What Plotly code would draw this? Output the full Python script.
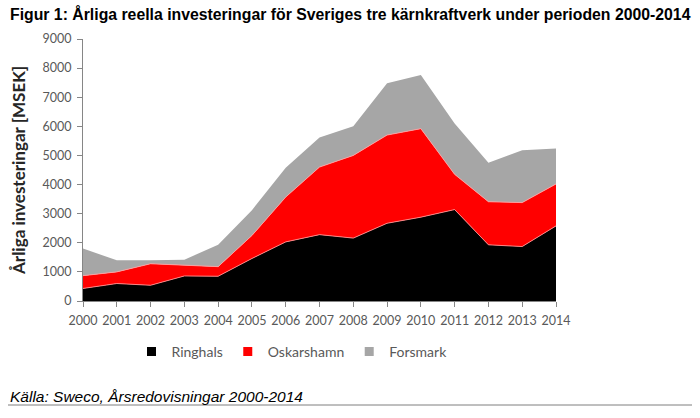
import plotly.graph_objects as go

years = list(range(2000, 2015))
ringhals = [430, 600, 540, 860, 850, 1460, 2030, 2280, 2160, 2670, 2880, 3140, 1930, 1870, 2580]
oskarshamn = [440, 400, 740, 370, 330, 790, 1540, 2320, 2840, 3030, 3040, 1210, 1480, 1510, 1440]
forsmark = [930, 400, 120, 190, 750, 870, 1010, 1020, 1000, 1780, 1840, 1750, 1340, 1800, 1220]

series = [("Ringhals", ringhals, "#000000", "rgba(255,140,140,0.9)"),
          ("Oskarshamn", oskarshamn, "#ff0000", "rgba(255,160,160,0.9)"),
          ("Forsmark", forsmark, "#a6a6a6", "rgba(166,166,166,0)")]

L, R, T, B = 83, 144, 39, 117
W, H = 700, 418
pw, ph = W - L - R, H - T - B

def px(x):
    return (x - L) / pw

def py(y):
    return (H - B - y) / ph

fig = go.Figure()
for name, vals, col, lc in series:
    fig.add_trace(go.Scatter(x=years, y=vals, name=name, stackgroup="one",
                             mode="lines", line=dict(color=lc, width=1),
                             fillcolor=col, showlegend=False, hoverinfo="skip"))
for name, vals, col, lc in series:
    fig.add_trace(go.Scatter(x=[None], y=[None], name=name, mode="markers",
                             marker=dict(symbol="square", size=9, color=col),
                             showlegend=True))

tickfont = dict(family="Lato", size=12.5, color="#595959")
fig.update_layout(
    width=W, height=H,
    margin=dict(l=L, r=R, t=T, b=B),
    paper_bgcolor="white", plot_bgcolor="white",
    xaxis=dict(range=[2000, 2014], tickvals=years, ticktext=[str(y) for y in years],
               showgrid=False, zeroline=False, showline=True, linecolor="#868686",
               linewidth=1, ticks="outside", ticklen=5, tickcolor="#868686",
               tickfont=tickfont, ticklabelstandoff=3),
    yaxis=dict(range=[0, 9000], tickvals=list(range(0, 9001, 1000)),
               showgrid=False, zeroline=False, showline=True, linecolor="#868686",
               linewidth=1, ticks="outside", ticklen=5, tickcolor="#868686",
               tickfont=tickfont, ticklabelstandoff=3),
    legend=dict(orientation="h", x=px(292), y=py(352), xanchor="center", yanchor="middle",
                font=dict(family="Lato", size=14, color="#595959"), itemwidth=30,
                tracegroupgap=0, traceorder="normal"),
    showlegend=True,
)

fig.add_annotation(text="<b>Figur 1: Årliga reella investeringar för Sveriges tre kärnkraftverk under perioden 2000-2014</b>",
                   xref="paper", yref="paper", x=px(8), y=py(14), xanchor="left", yanchor="middle",
                   showarrow=False, font=dict(family="Liberation Sans", size=15.8, color="#000000"))
fig.add_annotation(text="<b>Årliga investeringar [MSEK]</b>", textangle=-90,
                   xref="paper", yref="paper", x=px(18), y=py(171), xanchor="center", yanchor="middle",
                   showarrow=False, font=dict(family="Lato", size=17, color="#262626"))
fig.add_annotation(text="<i>Källa: Sweco, Årsredovisningar 2000-2014</i>",
                   xref="paper", yref="paper", x=px(8), y=py(396), xanchor="left", yanchor="middle",
                   showarrow=False, font=dict(family="Liberation Sans", size=15.5, color="#000000"))
fig.add_shape(type="line", xref="paper", yref="paper", x0=px(8), x1=px(692), y0=py(405), y1=py(405),
              line=dict(color="#7f7f7f", width=1))

fig.write_html("out.html")
